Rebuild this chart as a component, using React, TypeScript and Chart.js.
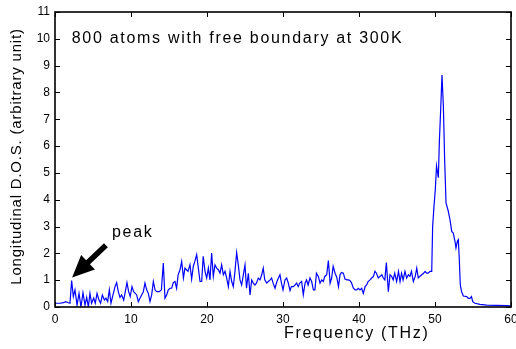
import { useEffect, useRef } from "react";
import { Chart, registerables } from "chart.js";

Chart.register(...registerables);

// Frequency (THz)
const freq: number[] = [
  0, 0.66, 1.1, 1.4, 1.75, 1.97, 2.19, 2.41, 2.63, 2.9, 3.16, 3.42, 3.68, 3.95, 4.17, 4.39, 4.6, 4.82, 5.09, 5.3,
  5.53, 5.75, 6.0, 6.23, 6.5, 6.7, 6.93, 7.15, 7.37, 7.63, 7.9, 8.11, 8.33, 8.55, 8.77, 9.04, 9.25, 9.47, 9.69, 9.9,
  10.13, 10.35, 10.75, 10.96, 11.18, 11.4, 11.62, 11.84, 12.06, 12.28, 12.5, 12.72, 12.94, 13.16, 13.38, 13.73, 14.0, 14.25, 14.47, 14.69,
  14.91, 15.13, 15.35, 15.57, 15.79, 16.0, 16.2, 16.45, 16.67, 16.9, 17.1, 17.3, 17.5, 17.76, 17.98, 18.2, 18.4, 18.64, 18.86, 19.08,
  19.3, 19.5, 19.74, 19.96, 20.18, 20.39, 20.61, 20.83, 21.05, 21.27, 21.49, 21.71, 21.93, 22.15, 22.37, 22.59, 22.81, 23.03, 23.25, 23.46,
  23.68, 23.9, 24.12, 24.34, 24.56, 24.78, 25.0, 25.2, 25.44, 25.66, 25.88, 26.1, 26.3, 26.5, 26.75, 26.97, 27.2, 27.4, 27.6, 27.85,
  28.07, 28.3, 28.5, 28.7, 28.95, 29.2, 29.4, 29.6, 29.8, 30.0, 30.26, 30.48, 30.7, 30.92, 31.1, 31.36, 31.58, 31.8, 32.0, 32.2,
  32.45, 32.67, 32.9, 33.1, 33.3, 33.55, 33.77, 34.0, 34.2, 34.4, 34.65, 34.87, 35.1, 35.3, 35.5, 35.75, 35.97, 36.2, 36.4, 36.6,
  36.85, 37.07, 37.3, 37.5, 37.7, 37.94, 38.16, 38.4, 38.6, 38.8, 39.0, 39.26, 39.5, 39.7, 39.9, 40.13, 40.35, 40.57, 40.8, 41.0,
  41.2, 41.45, 41.67, 41.9, 42.1, 42.3, 42.54, 42.76, 43.0, 43.2, 43.4, 43.6, 43.86, 44.08, 44.3, 44.5, 44.7, 44.95, 45.2, 45.4,
  45.6, 45.8, 46.05, 46.27, 46.5, 46.7, 46.9, 47.15, 47.4, 47.6, 47.8, 48.0, 48.25, 48.5, 48.7, 48.9, 49.1, 49.35, 49.57, 49.69,
  49.87, 50.04, 50.2, 50.44, 50.57, 50.75, 50.92, 51.1, 51.27, 51.45, 51.75, 51.97, 52.2, 52.4, 52.63, 52.76, 52.94, 53.07, 53.2, 53.33,
  53.5, 53.73, 54.17, 54.39, 54.6, 54.8, 54.96, 55.26, 55.92, 56.8, 58.1, 59.4, 59.95,
];

// Longitudinal D.O.S. (arbitrary unit)
const dos: number[] = [
  0.14, 0.14, 0.16, 0.2, 0.16, 0.14, 0.99, 0.39, 0.64, 0.07, 0.51, 0.0, 0.53, 0.07, 0.36, 0.0, 0.51, 0.14, 0.33, 0.14,
  0.51, 0.29, 0.14, 0.45, 0.26, 0.33, 0.2, 0.64, 0.14, 0.45, 0.76, 0.91, 0.57, 0.36, 0.45, 0.26, 0.57, 0.91, 0.57, 0.39,
  0.76, 0.57, 0.45, 0.2, 0.33, 0.45, 0.57, 0.89, 0.64, 0.51, 0.2, 0.45, 0.95, 0.64, 0.57, 0.57, 0.64, 1.64, 0.33, 0.45,
  0.64, 0.7, 0.7, 0.91, 0.95, 0.7, 1.2, 1.39, 1.7, 1.08, 1.45, 1.39, 1.33, 1.58, 1.04, 1.52, 1.7, 1.95, 1.45, 0.95,
  0.95, 1.89, 1.33, 1.08, 1.45, 1.01, 2.01, 1.14, 1.57, 1.45, 1.39, 1.26, 1.57, 1.2, 1.33, 1.08, 0.76, 1.33, 0.95, 0.76,
  1.33, 2.03, 1.57, 1.01, 0.82, 1.2, 1.57, 0.7, 1.26, 0.45, 1.01, 0.89, 0.82, 0.89, 1.08, 1.01, 1.2, 1.45, 1.01, 0.89,
  0.95, 1.01, 1.08, 0.89, 0.7, 0.95, 1.08, 1.2, 0.89, 0.64, 1.01, 1.08, 0.89, 0.61, 0.76, 0.76, 0.82, 0.89, 0.76, 0.89,
  0.95, 0.45, 0.89, 1.01, 0.82, 1.08, 0.95, 0.64, 0.64, 1.26, 1.14, 0.89, 1.01, 0.95, 1.14, 1.2, 1.73, 0.89, 1.08, 1.52,
  1.26, 1.11, 0.76, 1.2, 1.29, 1.26, 1.04, 1.01, 1.01, 0.99, 0.91, 0.7, 0.64, 0.64, 0.7, 0.64, 0.7, 0.51, 0.76, 0.82,
  0.95, 1.01, 1.08, 1.14, 1.33, 1.26, 1.08, 1.14, 1.2, 1.08, 1.01, 1.66, 0.57, 1.2, 1.14, 1.01, 1.26, 0.95, 1.33, 0.95,
  1.26, 1.01, 1.33, 1.08, 1.2, 1.14, 1.33, 0.95, 1.14, 1.45, 1.08, 1.14, 1.2, 1.26, 1.33, 1.26, 1.26, 1.33, 1.33, 3.01,
  3.76, 4.38, 5.26, 4.82, 6.13, 7.38, 8.65, 7.5, 5.5, 3.88, 3.57, 3.26, 2.82, 2.76, 2.45, 2.2, 2.45, 2.51, 1.76, 0.82,
  0.57, 0.41, 0.39, 0.32, 0.32, 0.39, 0.2, 0.14, 0.1, 0.07, 0.06, 0.05, 0.04,
];

const xMin = 0;
const xMax = 60;
const xStep = 10;
const yMin = 0;
const yMax = 11;
const yStep = 1;

const xTitle = "Frequency (THz)";
const yTitle = "Longitudinal D.O.S. (arbitrary unit)";
const noteText = "800 atoms with free boundary at 300K";
const notePos = [2.2, 10.0];
const peakText = "peak";
const peakTextPos = [7.5, 2.77];
const arrowTip = [2.25, 1.1];
const arrowTail = [6.7, 2.3];
const xTitleCenter = 39.7;

const FONT = "'Liberation Sans', Arial, sans-serif";

const overlay = {
  id: "overlay",
  afterDraw(chart: any) {
    const { ctx, chartArea: a, scales } = chart;
    const xs = scales.x;
    const ys = scales.y;
    ctx.save();
    ctx.strokeStyle = "#000";
    ctx.lineWidth = 1;
    ctx.beginPath();
    xs.ticks.forEach((t: any) => {
      const px = Math.round(xs.getPixelForValue(t.value)) + 0.5;
      ctx.moveTo(px, a.bottom);
      ctx.lineTo(px, a.bottom - 5);
      ctx.moveTo(px, a.top);
      ctx.lineTo(px, a.top + 5);
    });
    ys.ticks.forEach((t: any) => {
      const py = Math.round(ys.getPixelForValue(t.value)) + 0.5;
      ctx.moveTo(a.left, py);
      ctx.lineTo(a.left + 5, py);
      ctx.moveTo(a.right, py);
      ctx.lineTo(a.right - 5, py);
    });
    ctx.stroke();
    ctx.lineWidth = 1.6;
    ctx.strokeRect(a.left, a.top, a.right - a.left, a.bottom - a.top);

    // texts
    ctx.fillStyle = "#000";
    (ctx as any).letterSpacing = "1.7px";
    ctx.font = `16px ${FONT}`;
    ctx.textBaseline = "middle";
    ctx.textAlign = "left";
    ctx.fillText(noteText, xs.getPixelForValue(notePos[0]), ys.getPixelForValue(notePos[1]));
    ctx.fillText(peakText, xs.getPixelForValue(peakTextPos[0]), ys.getPixelForValue(peakTextPos[1]));

    ctx.textAlign = "center";
    ctx.font = `16px ${FONT}`;
    ctx.fillText(xTitle, xs.getPixelForValue(xTitleCenter), 334);

    (ctx as any).letterSpacing = "0.8px";
    ctx.font = `15px ${FONT}`;
    ctx.translate(17, (a.top + a.bottom) / 2 - 3);
    ctx.rotate(-Math.PI / 2);
    ctx.fillText(yTitle, 0, 0);
    ctx.restore();

    // arrow
    ctx.save();
    const tx = xs.getPixelForValue(arrowTip[0]);
    const ty = ys.getPixelForValue(arrowTip[1]);
    const sx = xs.getPixelForValue(arrowTail[0]);
    const sy = ys.getPixelForValue(arrowTail[1]);
    const ang = Math.atan2(ty - sy, tx - sx);
    const headLen = 22;
    const headHalf = 10;
    const shaftHalf = 2.8;
    const bx = tx - headLen * Math.cos(ang);
    const by = ty - headLen * Math.sin(ang);
    const nx = -Math.sin(ang);
    const ny = Math.cos(ang);
    ctx.fillStyle = "#000";
    ctx.beginPath();
    ctx.moveTo(sx + nx * shaftHalf, sy + ny * shaftHalf);
    ctx.lineTo(bx + nx * shaftHalf, by + ny * shaftHalf);
    ctx.lineTo(bx + nx * headHalf, by + ny * headHalf);
    ctx.lineTo(tx, ty);
    ctx.lineTo(bx - nx * headHalf, by - ny * headHalf);
    ctx.lineTo(bx - nx * shaftHalf, by - ny * shaftHalf);
    ctx.lineTo(sx - nx * shaftHalf, sy - ny * shaftHalf);
    ctx.closePath();
    ctx.fill();
    ctx.restore();
  },
};

export default function App() {
  const ref = useRef<HTMLCanvasElement | null>(null);
  useEffect(() => {
    if (!ref.current) return;
    const points = freq.map((f, i) => ({ x: f, y: dos[i] }));
    const chart = new Chart(ref.current, {
      type: "line",
      data: {
        datasets: [
          {
            data: points,
            borderColor: "#0000ff",
            borderWidth: 1.2,
            pointRadius: 0,
            tension: 0,
            fill: false,
          },
        ],
      },
      options: {
        animation: false,
        responsive: false,
        maintainAspectRatio: false,
        devicePixelRatio: 1,
        layout: { padding: { top: 12, right: 5, left: 0, bottom: 0 } },
        plugins: { legend: { display: false }, tooltip: { enabled: false } },
        scales: {
          x: {
            type: "linear",
            min: xMin,
            max: xMax,
            grid: { display: false, drawTicks: false },
            border: { display: false },
            ticks: { stepSize: xStep, padding: 5, color: "#000", maxRotation: 0, font: { size: 12, family: FONT } },
            afterFit: (s: any) => {
              s.height = 42;
              s.paddingLeft = 0;
              s.paddingRight = 0;
            },
          },
          y: {
            type: "linear",
            min: yMin,
            max: yMax,
            grid: { display: false, drawTicks: false },
            border: { display: false },
            ticks: { stepSize: yStep, padding: 5, color: "#000", font: { size: 12, family: FONT } },
            afterFit: (s: any) => {
              s.width = 55;
              s.paddingTop = 0;
              s.paddingBottom = 0;
            },
          },
        },
      },
      plugins: [overlay],
    });
    return () => chart.destroy();
  }, []);
  return (
    <div style={{ position: "absolute", left: 0, top: 0, width: 516, height: 349, background: "#fff" }}>
      <canvas ref={ref} width={516} height={349} style={{ display: "block" }} />
    </div>
  );
}
